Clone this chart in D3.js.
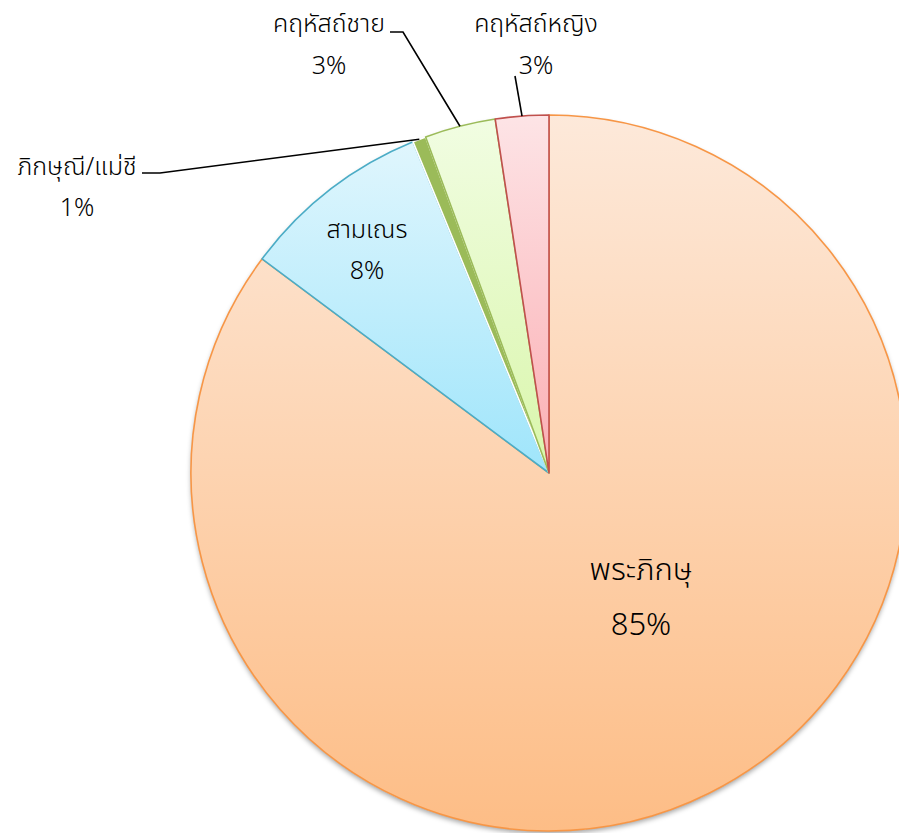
<!DOCTYPE html>
<html>
<head>
<meta charset="utf-8">
<script src="https://cdn.jsdelivr.net/npm/d3@7"></script>
<style>
  html, body { margin: 0; padding: 0; background: #fff; }
  svg { display: block; }
  text { font-family: "Noto Sans Thai", "Noto Sans Thai UI", "Loma", "Garuda", "Noto Sans", sans-serif; fill: #000; font-weight: 300; }
</style>
</head>
<body>
<svg id="chart" width="899" height="833"></svg>
<script>
// Data
const categories = ["พระภิกษุ", "สามเณร", "ภิกษุณี/แม่ชี", "คฤหัสถ์ชาย", "คฤหัสถ์หญิง"];
const values = [85.2, 8.6, 0.6, 3.2, 2.4];
const percentLabels = ["85%", "8%", "1%", "3%", "3%"];

// Styling
const topColors = ["#fde9da", "#e0f6fd", "#9bbb59", "#f1fde2", "#fde4e6"];
const bottomColors = ["#fdbd86", "#9fe5fb", "#9bbb59", "#d9f6ab", "#fbaeb3"];
const strokeColors = ["#f79646", "#4bacc6", "#ffffff", "#9bbb59", "#c0504d"];

const svg = d3.select("#chart");
const cx = 549, cy = 473, r = 358;

const defs = svg.append("defs");
const shadow = defs.append("filter").attr("id", "shadow")
  .attr("x", "-10%").attr("y", "-10%").attr("width", "120%").attr("height", "120%");
shadow.append("feDropShadow").attr("dx", 0).attr("dy", 3).attr("stdDeviation", 2.5)
  .attr("flood-color", "#000").attr("flood-opacity", 0.35);

categories.forEach((c, i) => {
  const g = defs.append("linearGradient").attr("id", "grad" + i)
    .attr("x1", 0).attr("y1", 0).attr("x2", 0).attr("y2", 1);
  g.append("stop").attr("offset", "0%").attr("stop-color", topColors[i]);
  g.append("stop").attr("offset", "100%").attr("stop-color", bottomColors[i]);
});

const data = categories.map((c, i) => ({ name: c, value: values[i], label: percentLabels[i], i }));
const pie = d3.pie().value(d => d.value).sort(null).startAngle(0).endAngle(2 * Math.PI);
const arcs = pie(data);
const arc = d3.arc().innerRadius(0).outerRadius(r);

const g = svg.append("g").attr("transform", `translate(${cx},${cy})`);
g.append("circle").attr("r", r).attr("fill", "#fff").attr("filter", "url(#shadow)");
g.selectAll("path.slice").data(arcs).enter().append("path")
  .attr("class", "slice")
  .attr("d", arc)
  .attr("fill", d => `url(#grad${d.data.i})`)
  .attr("stroke", d => strokeColors[d.data.i])
  .attr("stroke-width", 1.6)
  .attr("stroke-linejoin", "round");

// Label layout (positions in page coordinates)
const labelPos = [
  { x: 641, y1: 580, y2: 635, size: 31, inside: true },
  { x: 367, y1: 238, y2: 279, size: 25, inside: true },
  { x: 77,  y1: 175, y2: 216, size: 25, inside: false, lx: 142, ly: 173, elbow: [160, 173] },
  { x: 329, y1: 32,  y2: 74,  size: 25, inside: false, lx: 390, ly: 32, elbow: [403, 32] },
  { x: 536, y1: 32,  y2: 74,  size: 25, inside: false, lx: 515, ly: 76, elbow: null }
];

const labels = svg.append("g");
arcs.forEach(a => {
  const p = labelPos[a.data.i];
  if (!p.inside) {
    const mid = (a.startAngle + a.endAngle) / 2;
    const ex = cx + r * Math.sin(mid), ey = cy - r * Math.cos(mid);
    const pts = [[p.lx, p.ly]];
    if (p.elbow) pts.push(p.elbow);
    pts.push([ex, ey]);
    labels.append("path")
      .attr("d", d3.line()(pts))
      .attr("fill", "none").attr("stroke", "#000").attr("stroke-width", 1.6);
  }
  labels.append("text").attr("x", p.x).attr("y", p.y1).attr("text-anchor", "middle")
    .attr("font-size", p.size).text(a.data.name);
  labels.append("text").attr("x", p.x).attr("y", p.y2).attr("text-anchor", "middle")
    .attr("font-size", p.size).text(a.data.label);
});
</script>
</body>
</html>
